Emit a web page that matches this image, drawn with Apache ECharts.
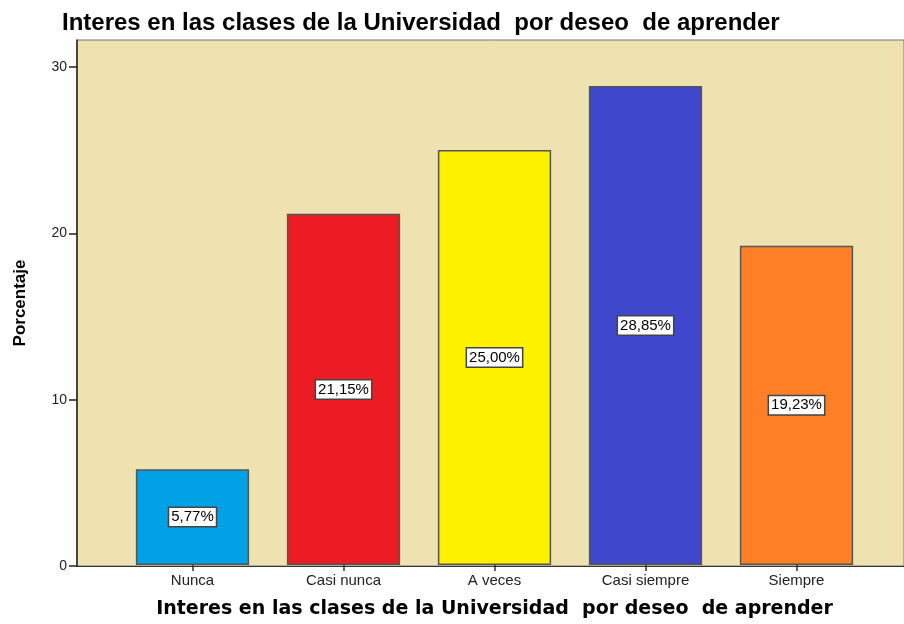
<!DOCTYPE html>
<html>
<head>
<meta charset="utf-8">
<script src="https://cdn.jsdelivr.net/npm/echarts@6/dist/echarts.min.js"></script>
<style>
  html, body { margin: 0; padding: 0; background: #fff; }
  #chart { width: 904px; height: 624px; }
</style>
</head>
<body>
<div id="chart"></div>
<script>
// datos
const categories = ["Nunca", "Casi nunca", "A veces", "Casi siempre", "Siempre"];
const percentages = [5.77, 21.15, 25.0, 28.85, 19.23];
const barColors = ["#00A2E5", "#ED1C24", "#FFF200", "#3F48CC", "#FF7F27"];
const yTicks = [0, 10, 20, 30];

const titleText = "Interes en las clases de la Universidad  por deseo  de aprender";

const chart = echarts.init(document.getElementById("chart"));

const option = {
  backgroundColor: "#ffffff",
  animation: false,
  title: {
    text: titleText,
    left: 57,
    top: 6,
    textStyle: {
      fontFamily: "Liberation Sans",
      fontWeight: "bold",
      fontSize: 24,
      color: "#000",
    },
  },
  grid: [
    {
      // fondo y eje Y
      left: 77,
      top: 40,
      right: -4,
      bottom: 58,
      show: true,
      backgroundColor: "#EEE2B0",
      borderColor: "#777",
      borderWidth: 1,
    },
    {
      // barras
      left: 117,
      top: 40,
      width: 755,
      bottom: 58,
    },
  ],
  xAxis: [
    {
      gridIndex: 0,
      type: "value",
      min: 0,
      max: 1,
      axisLine: { show: true, lineStyle: { color: "#333", width: 1 } },
      axisTick: { show: false },
      axisLabel: { show: false },
      splitLine: { show: false },
    },
    {
      gridIndex: 1,
      type: "category",
      data: categories,
      name: titleText,
      nameLocation: "middle",
      nameGap: 35,
      nameTextStyle: {
        fontFamily: "DejaVu Sans",
        fontWeight: "bold",
        fontSize: 19,
        color: "#000",
      },
      axisLine: { show: false },
      axisTick: {
        show: true,
        alignWithLabel: true,
        length: 6,
        lineStyle: { color: "#333", width: 1.5 },
      },
      axisLabel: {
        margin: 8,
        fontFamily: "Liberation Sans",
        fontSize: 15,
        color: "#222",
      },
    },
  ],
  yAxis: [
    {
      gridIndex: 0,
      type: "value",
      min: 0,
      max: 31.62,
      interval: 10,
      name: "Porcentaje",
      nameLocation: "middle",
      nameGap: 48,
      nameTextStyle: {
        fontFamily: "Liberation Sans",
        fontWeight: "bold",
        fontSize: 17,
        color: "#000",
      },
      axisLine: { show: true, lineStyle: { color: "#222", width: 1.5 } },
      axisTick: {
        show: true,
        length: 8,
        customValues: yTicks,
        lineStyle: { color: "#222", width: 1.5 },
      },
      axisLabel: {
        margin: 10,
        customValues: yTicks,
        fontFamily: "Liberation Sans",
        fontSize: 14,
        color: "#222",
      },
      splitLine: { show: false },
    },
    {
      gridIndex: 1,
      type: "value",
      min: 0,
      max: 31.62,
      show: false,
      splitLine: { show: false },
    },
  ],
  series: [
    {
      type: "bar",
      xAxisIndex: 1,
      yAxisIndex: 1,
      barWidth: "75%",
      data: percentages.map((v, i) => ({
        value: v,
        itemStyle: { color: barColors[i] },
      })),
      itemStyle: { borderColor: "#555", borderWidth: 1.5 },
      label: {
        show: true,
        position: "inside",
        formatter: (p) => p.value.toFixed(2).replace(".", ",") + "%",
        fontFamily: "Liberation Sans",
        fontSize: 15,
        color: "#000",
        backgroundColor: "#fff",
        borderColor: "#444",
        borderWidth: 1.5,
        padding: [2, 2, 1, 2],
      },
    },
  ],
};

chart.setOption(option);
</script>
</body>
</html>
